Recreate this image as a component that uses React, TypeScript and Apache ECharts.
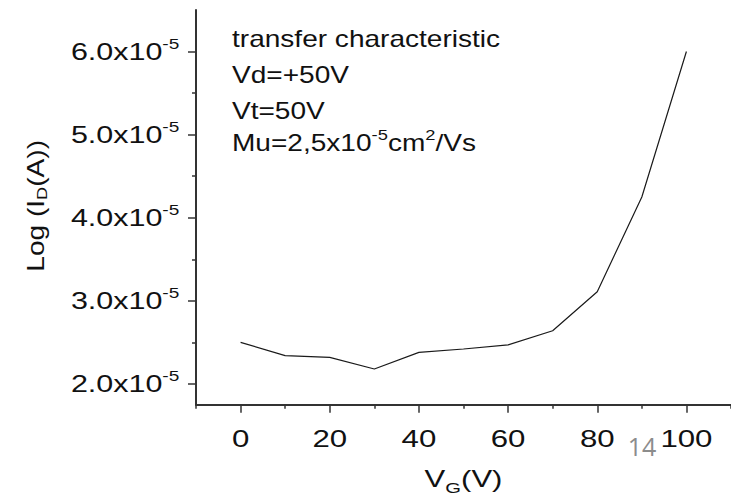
import React, { useEffect, useRef } from "react";
import * as echarts from "echarts";

// Gate voltage V_G (V)
const xValues = [0, 10, 20, 30, 40, 50, 60, 70, 80, 90, 100];
// Drain current, in units of 1e-5 A
const yValues = [2.5, 2.34, 2.32, 2.18, 2.38, 2.42, 2.47, 2.64, 3.11, 4.25, 6.0];

const xRange = [-10, 110];
const yRange = [1.75, 6.5];
const xMajorTicks = [0, 20, 40, 60, 80, 100];
const xMinorTicks = [-10, 10, 30, 50, 70, 90, 110];
const yMajorTicks = [2, 3, 4, 5, 6];
const yMinorTicks = [2.5, 3.5, 4.5, 5.5];

const annotationLines = ["transfer characteristic", "Vd=+50V", "Vt=50V"];
const mobilityLine = "{n|Mu=2,5x10}{s|-5}{n|cm}{s|2}{n|/Vs}";
const xName = "{n|V}{sub|G}{n|(V)}";
const yName = "{n|Log (I}{sub|D}{n|(A))}";
const pageNumber = "14";

const FONT = "'Liberation Sans', Arial, sans-serif";
const INK = "#111111";
const AXIS = "#333333";

export default function App() {
  const ref = useRef<HTMLDivElement>(null);

  useEffect(() => {
    const el = ref.current;
    if (!el) return;
    const chart = echarts.init(el, undefined, { renderer: "svg", width: 731, height: 495 });

    const tickStyle = { color: AXIS, width: 1.5 };
    chart.setOption({
      animation: false,
      grid: { left: 196, right: 0, top: 10, bottom: 90.3 },
      xAxis: [
        {
          type: "value",
          min: xRange[0],
          max: xRange[1],
          position: "bottom",
          axisLine: { show: true, onZero: false, lineStyle: { color: AXIS, width: 2 } },
          axisTick: { show: true, inside: false, length: 8, customValues: xMajorTicks, lineStyle: tickStyle },
          axisLabel: { show: false },
          splitLine: { show: false },
        },
        {
          type: "value",
          min: xRange[0],
          max: xRange[1],
          position: "bottom",
          axisLine: { show: false, onZero: false },
          axisTick: { show: true, inside: false, length: 4, customValues: xMinorTicks, lineStyle: tickStyle },
          axisLabel: { show: false },
          splitLine: { show: false },
        },
      ],
      yAxis: [
        {
          type: "value",
          min: yRange[0],
          max: yRange[1],
          position: "left",
          axisLine: { show: true, onZero: false, lineStyle: { color: AXIS, width: 2 } },
          axisTick: { show: true, inside: false, length: 8, customValues: yMajorTicks, lineStyle: tickStyle },
          axisLabel: { show: false },
          splitLine: { show: false },
        },
        {
          type: "value",
          min: yRange[0],
          max: yRange[1],
          position: "left",
          axisLine: { show: false, onZero: false },
          axisTick: { show: true, inside: false, length: 4, customValues: yMinorTicks, lineStyle: tickStyle },
          axisLabel: { show: false },
          splitLine: { show: false },
        },
      ],
      series: [
        {
          type: "line",
          xAxisIndex: 0,
          yAxisIndex: 0,
          data: xValues.map((x, i) => [x, yValues[i]]),
          symbol: "none",
          showSymbol: false,
          lineStyle: { color: "#1a1a1a", width: 1.2 },
          silent: true,
        },
      ],
    });

    const px = (v: number) => chart.convertToPixel({ xAxisIndex: 0 }, v) as number;
    const py = (v: number) => chart.convertToPixel({ yAxisIndex: 0 }, v) as number;
    const axisX = px(xRange[0]);
    const axisY = py(yRange[0]);
    const midX = px((xRange[0] + xRange[1]) / 2);
    const midY = py((yRange[0] + yRange[1]) / 2);

    const elements: any[] = [];

    // y tick labels
    yMajorTicks.forEach((v) => {
      elements.push({
        type: "text",
        x: axisX - 16.7,
        y: py(v),
        scaleX: 1.27,
        silent: true,
        style: {
          text: `{n|${v.toFixed(1)}x10}{s|-5}`,
          align: "right",
          verticalAlign: "middle",
          rich: {
            n: { fontSize: 24, fontFamily: FONT, lineHeight: 24, verticalAlign: "bottom", fill: INK },
            s: { fontSize: 15, fontFamily: FONT, lineHeight: 15, padding: [0, 0, 16, 0], fill: INK },
          },
        },
      });
    });

    // x tick labels
    xMajorTicks.forEach((v) => {
      elements.push({
        type: "text",
        x: px(v),
        y: axisY + 34,
        scaleX: 1.3,
        silent: true,
        style: {
          text: String(v),
          align: "center",
          verticalAlign: "middle",
          fontSize: 24,
          fontFamily: FONT,
          fill: INK,
        },
      });
    });

    // annotation block
    const lineCenters = [39, 75, 110.6];
    annotationLines.forEach((t, i) => {
      elements.push({
        type: "text",
        x: 232,
        y: lineCenters[i],
        scaleX: 1.22,
        silent: true,
        style: { text: t, align: "left", verticalAlign: "middle", fontSize: 23, fontFamily: FONT, fill: INK },
      });
    });
    elements.push({
      type: "text",
      x: 232,
      y: 131.2,
      scaleX: 1.22,
      silent: true,
      style: {
        text: mobilityLine,
        align: "left",
        verticalAlign: "top",
        rich: {
          n: { fontSize: 23, fontFamily: FONT, lineHeight: 23, verticalAlign: "bottom", fill: INK },
          s: { fontSize: 15, fontFamily: FONT, lineHeight: 15, padding: [0, 0, 15, 0], fill: INK },
        },
      },
    });

    // x axis name
    elements.push({
      type: "text",
      x: midX,
      y: 467.5,
      scaleX: 1.35,
      silent: true,
      style: {
        text: xName,
        align: "center",
        verticalAlign: "top",
        rich: {
          n: { fontSize: 23, fontFamily: FONT, lineHeight: 23, verticalAlign: "top", fill: INK },
          sub: { fontSize: 15, fontFamily: FONT, lineHeight: 15, padding: [18, 0, 0, 0], fill: INK },
        },
      },
    });

    // y axis name (rotated)
    elements.push({
      type: "text",
      x: 35.5,
      y: midY - 1.5,
      rotation: Math.PI / 2,
      scaleX: 1.22,
      silent: true,
      style: {
        text: yName,
        align: "center",
        verticalAlign: "middle",
        rich: {
          n: { fontSize: 23, fontFamily: FONT, lineHeight: 23, verticalAlign: "top", fill: INK },
          sub: { fontSize: 15, fontFamily: FONT, lineHeight: 15, padding: [14, 0, 0, 0], fill: INK },
        },
      },
    });

    // slide page number
    elements.push({
      type: "text",
      x: 642,
      y: 446,
      silent: true,
      style: {
        text: pageNumber,
        align: "center",
        verticalAlign: "middle",
        fontSize: 25,
        fontFamily: "'Open Sans', 'Noto Sans', sans-serif",
        fill: "#8c8c8c",
      },
    });

    chart.setOption({ graphic: { elements } });

    return () => chart.dispose();
  }, []);

  return (
    <div
      ref={ref}
      style={{ position: "fixed", left: 0, top: 0, width: 731, height: 495, background: "#ffffff" }}
    />
  );
}
